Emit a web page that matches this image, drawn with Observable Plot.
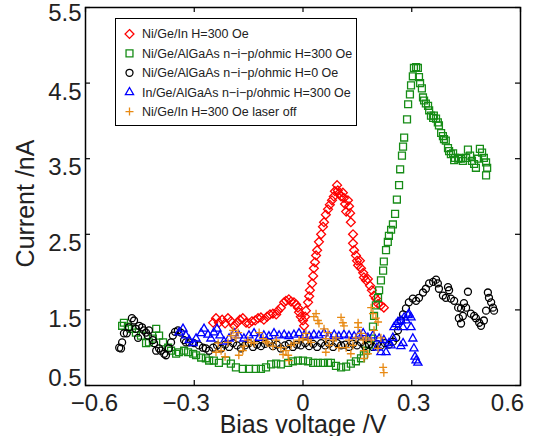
<!DOCTYPE html>
<html><head><meta charset="utf-8">
<script src="https://cdn.jsdelivr.net/npm/d3@7"></script>
<script src="https://cdn.jsdelivr.net/npm/@observablehq/plot@0.6"></script>
<style>body{margin:0;background:#fff;} #chart{width:536px;height:436px;}</style>
</head><body><div id="chart"></div>
<script>
// ---- data (Bias voltage V, Current nA) ----
const seriesNames = [
  "Ni/Ge/In H=300 Oe",
  "Ni/Ge/AlGaAs n\u2212i\u2212p/ohmic H=300 Oe",
  "Ni/Ge/AlGaAs n\u2212i\u2212p/ohmic H=0 Oe",
  "In/Ge/AlGaAs n\u2212i\u2212p/ohmic H=300 Oe",
  "Ni/Ge/In H=300 Oe laser off"
];
const seriesColors = ["#ff0000", "#168c16", "#000000", "#0000ff", "#e88a14"];
const seriesSymbols = ["diamond2", "square2", "circle", "triangle2", "plus"];

const niGeIn300 = [
  [-0.248,1.33],[-0.240,1.39],[-0.232,1.33],[-0.223,1.37],[-0.215,1.32],[-0.207,1.39],[-0.199,1.35],
  [-0.190,1.29],[-0.182,1.33],[-0.174,1.37],[-0.166,1.39],[-0.157,1.33],[-0.149,1.32],[-0.141,1.35],
  [-0.132,1.36],[-0.124,1.39],[-0.116,1.40],[-0.108,1.37],[-0.099,1.41],[-0.091,1.44],[-0.083,1.45],
  [-0.074,1.44],[-0.069,1.49],[-0.061,1.53],[-0.052,1.60],[-0.047,1.62],[-0.039,1.64],[-0.033,1.61],
  [-0.025,1.60],[-0.019,1.57],[-0.014,1.53],[-0.011,1.47],[-0.006,1.41],[0.000,1.36],[0.003,1.29],
  [0.006,1.41],[0.008,1.49],[0.014,1.60],[0.017,1.68],[0.019,1.76],[0.025,1.85],[0.028,1.95],
  [0.030,2.05],[0.033,2.13],[0.036,2.22],[0.039,2.29],[0.044,2.40],[0.050,2.50],[0.055,2.60],
  [0.058,2.66],[0.063,2.76],[0.069,2.83],[0.074,2.89],[0.080,2.95],[0.085,3.00],[0.088,3.07],
  [0.094,3.15],[0.096,3.08],[0.099,3.04],[0.105,3.00],[0.110,3.05],[0.113,2.98],[0.116,2.90],
  [0.119,2.80],[0.124,2.95],[0.127,2.87],[0.130,2.78],[0.132,2.66],[0.138,2.50],[0.138,2.38],
  [0.141,2.29],[0.146,2.22],[0.149,2.15],[0.152,2.09],[0.157,2.15],[0.160,2.05],[0.166,1.99],
  [0.168,1.93],[0.174,1.89],[0.179,1.91],[0.185,1.82],[0.190,1.76],[0.196,1.69],[0.201,1.65],
  [0.207,1.58],[0.215,1.56],[0.223,1.53]
];
const niGeAlGaAs300 = [
  [-0.499,1.29],[-0.494,1.33],[-0.483,1.28],[-0.472,1.25],[-0.461,1.20],[-0.447,1.16],[-0.433,1.06],
  [-0.425,1.07],[-0.414,1.12],[-0.405,1.25],[-0.397,1.16],[-0.386,1.07],[-0.372,1.00],[-0.364,0.96],
  [-0.350,0.92],[-0.342,0.94],[-0.328,0.96],[-0.317,0.94],[-0.303,0.92],[-0.295,0.90],[-0.281,0.87],
  [-0.268,0.86],[-0.259,0.83],[-0.246,0.83],[-0.232,0.80],[-0.212,0.83],[-0.199,0.79],[-0.185,0.74],
  [-0.166,0.72],[-0.149,0.72],[-0.130,0.72],[-0.116,0.72],[-0.102,0.74],[-0.088,0.78],[-0.074,0.79],
  [-0.061,0.78],[-0.041,0.80],[-0.028,0.82],[-0.014,0.83],[0.000,0.83],[0.014,0.82],[0.028,0.80],
  [0.041,0.80],[0.055,0.80],[0.069,0.80],[0.077,0.80],[0.091,0.76],[0.105,0.74],[0.119,0.75],
  [0.132,0.79],[0.146,0.82],[0.160,0.86],[0.168,0.90],[0.174,0.96],[0.182,1.04],[0.188,1.12],
  [0.193,1.28],[0.196,1.42],[0.201,1.56],[0.207,1.66],[0.210,1.76],[0.215,1.89],[0.221,2.02],
  [0.223,2.14],[0.229,2.29],[0.234,2.40],[0.237,2.48],[0.243,2.56],[0.248,2.63],[0.254,2.77],
  [0.259,2.96],[0.265,3.15],[0.268,3.36],[0.273,3.54],[0.276,3.66],[0.279,3.78],[0.287,4.02],
  [0.290,4.22],[0.295,4.35],[0.298,4.47],[0.303,4.59],[0.306,4.70],[0.312,4.71],[0.317,4.70],
  [0.320,4.58],[0.323,4.50],[0.328,4.43],[0.331,4.31],[0.334,4.27],[0.339,4.23],[0.345,4.20],
  [0.348,4.14],[0.353,4.07],[0.359,4.04],[0.361,4.07],[0.367,4.03],[0.372,3.98],[0.375,3.94],
  [0.381,3.84],[0.386,3.80],[0.389,3.76],[0.394,3.74],[0.400,3.64],[0.403,3.60],[0.408,3.56],
  [0.414,3.57],[0.417,3.48],[0.419,3.51],[0.428,3.50],[0.430,3.51],[0.436,3.50],[0.441,3.47],
  [0.450,3.51],[0.455,3.62],[0.461,3.54],[0.466,3.47],[0.472,3.43],[0.477,3.38],[0.483,3.50],
  [0.488,3.63],[0.494,3.58],[0.499,3.51],[0.505,3.45],[0.508,3.38],[0.505,3.28]
];
const niGeAlGaAs0 = [
  [-0.507,1.00],[-0.502,0.99],[-0.499,1.07],[-0.494,1.19],[-0.486,1.19],[-0.480,1.27],[-0.472,1.39],
  [-0.466,1.36],[-0.461,1.25],[-0.455,1.13],[-0.452,1.29],[-0.444,1.27],[-0.439,1.23],[-0.433,1.20],
  [-0.428,1.16],[-0.425,1.23],[-0.414,1.10],[-0.411,1.06],[-0.405,0.96],[-0.397,0.99],[-0.392,0.96],
  [-0.383,0.92],[-0.378,0.90],[-0.370,0.99],[-0.364,1.07],[-0.359,1.16],[-0.353,1.21],[-0.345,1.23],
  [-0.337,1.20],[-0.328,1.10],[-0.323,1.07],[-0.314,1.07],[-0.301,1.06],[-0.287,1.03],[-0.276,1.00],
  [-0.268,0.99],[-0.259,0.96],[-0.248,1.00],[-0.237,1.03],[-0.226,0.99],[-0.215,1.04],[-0.204,1.01],
  [-0.193,1.06],[-0.182,1.03],[-0.171,0.99],[-0.160,1.03],[-0.149,1.06],[-0.138,1.01],[-0.127,1.04],
  [-0.116,1.02],[-0.105,1.05],[-0.094,1.07],[-0.083,1.02],[-0.072,1.04],[-0.061,0.99],[-0.050,1.03],
  [-0.039,1.05],[-0.028,1.01],[-0.017,1.04],[-0.006,1.03],[0.006,1.06],[0.017,1.02],[0.028,1.05],
  [0.039,1.01],[0.050,1.06],[0.061,1.03],[0.072,1.05],[0.083,1.01],[0.094,1.06],[0.105,1.03],
  [0.116,1.04],[0.127,1.01],[0.138,1.05],[0.149,1.03],[0.160,1.07],[0.171,1.02],[0.182,1.04],
  [0.193,1.01],[0.204,1.05],[0.215,1.03],[0.226,1.06],[0.237,1.04],[0.248,1.08],[0.257,1.13],
  [0.262,1.23],[0.270,1.36],[0.276,1.44],[0.284,1.52],[0.292,1.60],[0.303,1.65],[0.312,1.62],
  [0.320,1.66],[0.331,1.73],[0.339,1.78],[0.348,1.85],[0.359,1.87],[0.367,1.90],[0.372,1.85],
  [0.375,1.78],[0.386,1.69],[0.394,1.66],[0.400,1.80],[0.403,1.76],[0.408,1.65],[0.417,1.62],
  [0.428,1.53],[0.430,1.39],[0.436,1.52],[0.436,1.32],[0.441,1.42],[0.444,1.59],[0.450,1.53],
  [0.455,1.74],[0.463,1.45],[0.472,1.42],[0.477,1.39],[0.486,1.33],[0.491,1.29],[0.499,1.36],
  [0.505,1.49],[0.510,1.73],[0.513,1.66],[0.519,1.60],[0.524,1.53],[0.527,1.49]
];
const inGeAlGaAs300 = [
  [-0.342,1.20],[-0.331,1.25],[-0.323,1.16],[-0.314,1.10],[-0.303,1.06],[-0.295,1.12],[-0.281,1.19],
  [-0.273,1.25],[-0.262,1.17],[-0.254,1.12],[-0.246,1.20],[-0.237,1.25],[-0.229,1.16],[-0.218,1.08],
  [-0.204,1.12],[-0.190,1.19],[-0.177,1.16],[-0.163,1.12],[-0.149,1.16],[-0.135,1.19],[-0.121,1.13],
  [-0.108,1.16],[-0.094,1.15],[-0.080,1.19],[-0.066,1.16],[-0.052,1.17],[-0.039,1.15],[-0.025,1.17],
  [-0.011,1.19],[0.003,1.16],[0.017,1.15],[0.030,1.17],[0.044,1.16],[0.058,1.19],[0.072,1.15],
  [0.086,1.17],[0.099,1.15],[0.113,1.17],[0.127,1.16],[0.141,1.15],[0.155,1.17],[0.166,1.19],
  [0.179,1.13],[0.193,1.16],[0.204,1.00],[0.210,1.12],[0.215,0.94],[0.223,1.10],[0.229,0.94],
  [0.237,1.06],[0.243,1.03],[0.248,1.13],[0.251,1.27],[0.257,1.31],[0.262,1.34],[0.270,1.36],
  [0.270,1.02],[0.276,1.27],[0.276,1.06],[0.279,1.40],[0.284,1.36],[0.290,1.43],[0.292,1.45],
  [0.298,1.40],[0.298,1.27],[0.303,1.12],[0.306,0.99],[0.309,0.88],[0.312,0.83],[0.317,0.80]
];
const niGeInLaserOff = [
  [-0.240,0.94],[-0.234,1.06],[-0.226,0.96],[-0.215,0.88],[-0.207,1.07],[-0.199,1.16],[-0.193,1.23],
  [-0.185,1.13],[-0.179,1.20],[-0.177,0.90],[-0.166,0.96],[-0.163,1.02],[-0.152,1.10],[-0.143,1.07],
  [-0.135,1.06],[-0.121,1.20],[-0.110,1.12],[-0.102,1.08],[-0.097,1.06],[-0.083,1.02],[-0.074,1.10],
  [-0.061,1.00],[-0.055,0.91],[-0.047,0.96],[-0.041,0.90],[-0.039,0.83],[-0.033,1.03],[-0.025,1.06],
  [-0.011,1.10],[0.000,1.12],[0.008,1.19],[0.014,1.10],[0.022,1.07],[0.030,1.41],[0.036,1.45],
  [0.041,1.36],[0.044,1.32],[0.058,1.25],[0.063,1.12],[0.063,0.94],[0.069,1.20],[0.072,1.03],
  [0.083,1.10],[0.091,1.13],[0.099,1.00],[0.105,1.40],[0.110,1.33],[0.113,1.29],[0.119,1.00],
  [0.127,1.10],[0.132,0.92],[0.138,1.03],[0.146,1.13],[0.152,1.33],[0.152,1.27],[0.160,1.19],
  [0.166,1.10],[0.168,0.96],[0.168,0.86],[0.174,1.13],[0.179,0.92],[0.188,1.10],[0.188,1.53],
  [0.193,1.45],[0.196,1.23],[0.201,1.39],[0.207,1.34],[0.207,0.99],[0.215,1.13],[0.221,0.74],
  [0.223,0.67]
];
const allSeries = [niGeIn300, niGeAlGaAs300, niGeAlGaAs0, inGeAlGaAs300, niGeInLaserOff];

const xTicks = [-0.6, -0.3, 0, 0.3, 0.6];
const xTickLabels = ["\u22120.6", "\u22120.3", "0", "0.3", "0.6"];
const yTicks = [0.5, 1.5, 2.5, 3.5, 4.5, 5.5];
const yTickLabels = ["0.5", "1.5", "2.5", "3.5", "4.5", "5.5"];
const xTitle = "Bias voltage /V";
const yTitle = "Current /nA";

// ---- layout ----
const W = 536, H = 436, mL = 85, mR = 16, mT = 7, mB = 51;
const pw = W - mL - mR, ph = H - mT - mB;
const font = "'Liberation Sans', Arial, Helvetica, sans-serif";
const txt = "#222";
const radii = [4, 4.4, 3.5, 3.9, 2.7];

const xLabelDx = [9, -8, 0, 2, -13];
const yLabelDy = [-7, 9, 9, 9, 9, 6];

const marks = [];
allSeries.forEach((arr, k) => {
  marks.push(Plot.dot(arr, {x: d => d[0], y: d => d[1], symbol: seriesSymbols[k], r: radii[k],
    stroke: seriesColors[k], fill: "none", strokeWidth: 1.3}));
});
// inward ticks on all four sides
marks.push(Plot.tickX(xTicks, {x: d => d, insetTop: ph - 5, stroke: "black", strokeWidth: 1.2}));
marks.push(Plot.tickX(xTicks, {x: d => d, insetBottom: ph - 5, stroke: "black", strokeWidth: 1.2}));
marks.push(Plot.tickY(yTicks, {y: d => d, insetRight: pw - 5, stroke: "black", strokeWidth: 1.2}));
marks.push(Plot.tickY(yTicks, {y: d => d, insetLeft: pw - 5, stroke: "black", strokeWidth: 1.2}));
marks.push(Plot.frame({stroke: "black", strokeWidth: 1.5}));
// tick labels
xTicks.forEach((v, i) => {
  marks.push(Plot.text([v], {x: d => d, text: () => xTickLabels[i], frameAnchor: "bottom",
    dy: 18, dx: xLabelDx[i], lineAnchor: "middle", fontSize: 24, fill: txt}));
});
yTicks.forEach((v, i) => {
  marks.push(Plot.text([v], {y: d => d, text: () => yTickLabels[i], frameAnchor: "left",
    textAnchor: "end", dx: -4, dy: yLabelDy[i], lineAnchor: "middle", fontSize: 24, fill: txt}));
});
// axis titles
marks.push(Plot.text([xTitle], {text: d => d, frameAnchor: "bottom", textAnchor: "middle", dy: 39,
  lineAnchor: "middle", fontSize: 25, fill: txt}));
marks.push(Plot.text([yTitle], {text: d => d, frameAnchor: "left", textAnchor: "middle", dx: -60, dy: 7,
  rotate: -90, lineAnchor: "middle", fontSize: 25, fill: txt}));

const svg = Plot.plot({
  width: W, height: H, marginLeft: mL, marginRight: mR, marginTop: mT, marginBottom: mB,
  x: {domain: [-0.6, 0.6]}, y: {domain: [0.5, 5.5]},
  axis: null,
  style: {fontFamily: font, background: "white", overflow: "visible"},
  marks
});
document.getElementById("chart").appendChild(svg);

// legend inside the plot area
const lg = d3.select(svg).append("g").attr("font-family", font).attr("text-anchor", "start");
lg.append("rect").attr("x", 115.5).attr("y", 18.5).attr("width", 241).attr("height", 107)
  .attr("fill", "white").attr("stroke", "black").attr("stroke-width", 1);
const d3Syms = [d3.symbolDiamond2, d3.symbolSquare2, d3.symbolCircle, d3.symbolTriangle2, d3.symbolPlus];
seriesNames.forEach((name, k) => {
  const y = 34 + k * 19.4;
  lg.append("path").attr("transform", `translate(129.5,${y})`)
    .attr("d", d3.symbol(d3Syms[k], Math.PI * radii[k] * radii[k])())
    .attr("fill", "none").attr("stroke", seriesColors[k]).attr("stroke-width", 1.3);
  lg.append("text").attr("x", 142).attr("y", y).attr("dy", "0.35em")
    .attr("text-anchor", "start").attr("font-size", 12.5).attr("fill", txt).text(name);
});
</script></body></html>
